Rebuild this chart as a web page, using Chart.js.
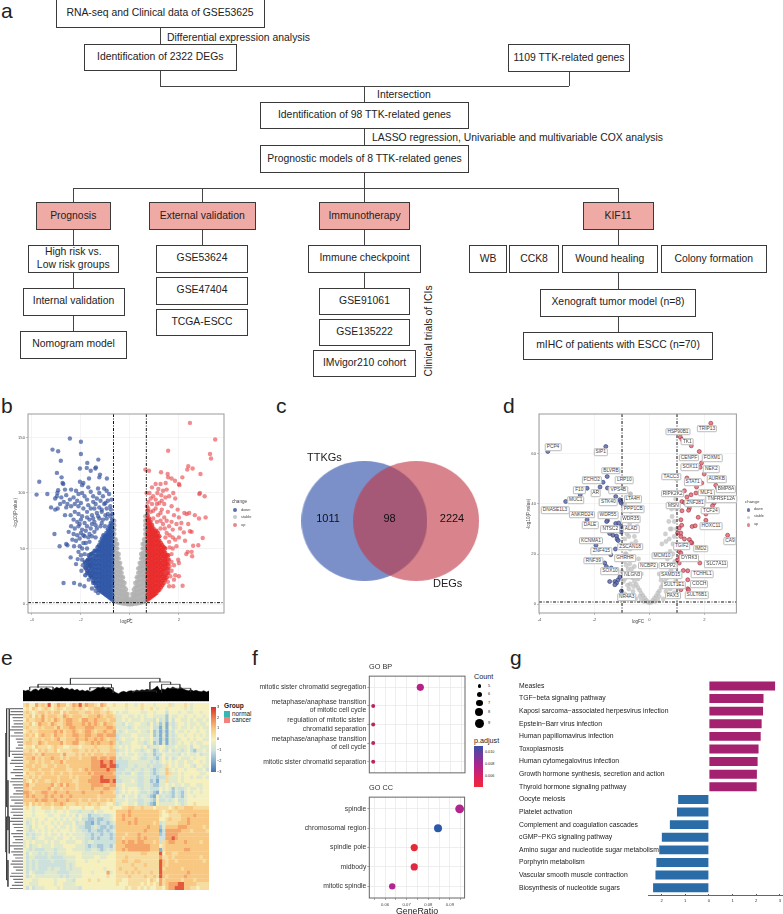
<!DOCTYPE html>
<html>
<head>
<meta charset="utf-8">
<script src="https://cdn.jsdelivr.net/npm/chart.js@4"></script>
<style>
html, body { margin: 0; background: #fff; }
#page { position: relative; width: 783px; height: 914px; overflow: hidden; font-family: "Liberation Sans", Arial, sans-serif; color: #222; }
#page canvas { position: absolute; }
.t { position: absolute; white-space: nowrap; line-height: 1; }
.box { position: absolute; box-sizing: border-box; border: 1px solid #3a3a3a; display: flex; align-items: center; justify-content: center; text-align: center; font-size: 10.4px; line-height: 12.5px; background: #fff; }
.tag { position: absolute; transform: translate(-50%, -50%); background: #fff; border: 0.5px solid #bbb; border-radius: 1px; font-size: 4.8px; line-height: 5.6px; padding: 0 1px; white-space: nowrap; color: #444; }
.ln { position: absolute; background: #444; }
</style>
</head>
<body>
<div id="page"></div>
<script>
// panel b: volcano
const bThresholdX = [-0.67, 0.67];
const bThresholdY = 1.3;
const bDownSparse = [[-2.45,149],[-2,146],[-3.16,139],[-2.93,137.5],[-2,135],[-2.82,129],[-1.74,127],[-1.29,130],[-2.04,122],[-1.76,122.5],[-1.6,120],[-1.39,123],[-1.41,122],[-2.98,118],[-2.79,114],[-1.22,116.5],[-1.25,114],[-1.67,113],[-.94,113],[-3.7,110],[-2.75,109],[-2.72,108],[-2.04,110],[-1.9,109],[-1.95,107],[-3.81,98.5],[-3.37,99],[-2.93,102.5],[-2.96,100],[-2.65,103],[-2.4,103],[-2.2,102],[-2.1,99],[-1.95,100],[-1.7,105],[-1.6,101],[-1.3,104],[-1.25,100],[-1.05,104],[-.95,102],[-.85,99],[-2.98,97],[-3.05,95],[-2.8,96],[-2.6,98],[-2.45,94],[-2.3,96],[-2.15,93],[-1.85,97],[-1.75,94],[-1.5,97],[-1.35,95],[-1.1,97],[-.9,93],[-.75,94],[-3.22,87],[-3.05,85],[-2.95,86],[-2.85,90],[-2.7,92],[-2.55,90],[-2.6,87],[-2.4,88],[-2.25,90],[-2.1,88],[-2,91],[-1.9,86],[-1.7,89],[-1.6,86],[-1.4,90],[-1.25,87],[-1.05,90],[-.95,86],[-.8,88],[-2.65,80],[-2.42,80],[-2.25,83],[-2.1,81],[-1.95,79],[-1.75,83],[-1.55,80],[-1.35,82],[-1.15,83],[-.9,81],[-2.3,76],[-2.15,74],[-2,76],[-1.85,73],[-1.65,76],[-1.45,74],[-1.25,77],[-1.1,76],[-.95,77],[-2.4,70],[-2.25,68],[-2.1,70],[-1.95,67],[-1.75,70],[-1.6,68],[-1.4,71],[-1.2,70],[-2.5,65],[-2.3,63],[-2.15,62],[-2,64],[-1.85,61],[-1.65,63],[-1.45,65],[-3.08,63],[-2.87,52],[-2.6,54],[-2.55,53],[-2.42,42],[-2.28,52],[-2.1,47],[-2.13,40.5],[-1.95,40],[-1.9,55],[-1.75,50],[-1.65,56],[-1.6,45],[-1.8,32],[-2.71,19],[-2.28,19],[-2.04,17.5],[-1.86,16],[-1.75,28],[-1.6,25],[-1.5,19],[-1.65,35],[-1.55,14],
[-1.5,92],[-1.2,93],[-1,91],[-.78,85],[-1.45,86],[-1.15,85],[-1.75,78],[-1.5,77],[-1.3,79],[-1,80],[-.8,79],[-2.05,72],[-1.8,66],[-1.55,72],[-1.35,68],[-1.15,73],[-1.02,70],[-2.2,57],[-2.05,59],[-1.9,62],[-1.7,60],[-1.55,61],[-1.4,60],[-2.35,58],[-2.05,52],[-1.95,50],[-1.8,55],[-2,44],[-1.85,45],[-1.92,35],[-2.2,36],[-1.98,30],[-1.85,38],[-1.72,40],[-1.68,22],[-1.4,12],[-1.3,10]];
const bDownColX = [-0.72,-0.78,-0.84,-0.9,-0.96,-1.02,-1.08,-1.14,-1.2,-1.26,-1.32,-1.38,-1.44,-1.5,-1.56,-1.62,-1.68,-1.74,-1.82];
const bDownColY = [
  [4,8,12,16,20,24,28,32,36,40,44,48,52,56,60,64,68,72,76,81],
  [5,9,13,17,21,25,29,33,37,41,45,49,53,57,61,65,69,73],
  [6,10,14,18,22,26,30,34,38,42,46,50,54,58,62,66,70],
  [7,11,15,19,23,27,31,35,39,43,47,51,55,59,63,67],
  [8,12,16,20,24,28,32,36,40,44,48,52,56,60,64],
  [9,13,17,21,25,29,33,37,41,45,49,53,57,61],
  [10,14,18,22,26,30,34,38,42,46,50,54,58,62],
  [11,15,19,23,27,31,35,39,43,47,51,55,59],
  [12,16,20,24,28,32,36,40,44,48,52,56],
  [13,17,21,25,29,33,37,41,45,49,53],
  [15,19,23,27,31,35,39,43,47,51],
  [16,20,24,28,32,36,40,44,48],
  [19,23,27,31,35,39,43,48],
  [21,25,29,33,37,41,46],
  [24,28,32,36,40,45],
  [26,30,34,38,42],
  [28,32,36,40,44],
  [30,35,39],
  [26,33,37]
];
const bUpSparse = [[2.45,163],[3.48,148],[1.56,138],[3.27,135],[3.31,131],[2.38,124],[2.56,122],[2.34,121],[.78,120],[1.27,118.6],[.63,121],[2.88,117],[1.54,117],[1.56,114],[2.14,114],[1.7,113],[1.84,111],[2,108],[2.02,107],[.9,105],[1.16,103.6],[1.46,109],[1.25,108],[1.05,108],[2.86,100],[2.83,99],[3.05,97],[1.77,100],[1.5,103],[1.35,102],[1.12,100],[.8,100],[.68,100],[.95,97],[1.28,98],[1.6,97],[1.85,95],[1.45,96],[1.05,94],[.75,92],[.9,90],[1.2,91],[1.4,90],[1.7,88],[1.95,85],[2.22,82],[2.32,81],[2.42,82],[2.65,80],[2.82,77],[3.09,78],[.7,88],[1.05,86],[1.3,85],[1.55,83],[1.8,80],[2,78],[.85,83],[1.15,80],[1.4,78],[1.7,74],[1.9,72],[2.38,72],[2.05,68],[2.1,73],[.95,77],[1.25,75],[1.6,70],[1.75,67],[1.5,64],[2.45,65.5],[2.52,65],[2.2,64.5],[2,60],[2.25,57],[2.97,59.5],[2.79,53],[2.58,52.5],[2.52,47],[2.36,47],[2.54,43],[2.3,45],[1.85,58],[1.6,56],[1.75,50],[1.9,52],[1.7,45],[2,37],[1.97,40],[1.8,35],[1.7,30],[1.85,26],[2,25],[1.65,25],[1.55,30],[2.15,16.5],[1.77,16],[1.6,16],[1.8,22],[1.55,20],[1.45,28],
[.85,95],[1.3,93],[.75,86],[1.1,90],[.95,84],[1.25,82],[1.5,75],[1.35,72],[1.1,74],[1.42,68],[1.25,68],[1.62,62],[1.45,60],[1.75,60],[1.62,51],[1.7,38],[1.6,40],[1.62,34]];
const bUpColX = [0.72,0.78,0.84,0.9,0.96,1.02,1.08,1.14,1.2,1.26,1.32,1.38,1.44,1.5,1.56];
const bUpColY = [
  [4,8,12,16,20,24,28,32,36,40,44,48,52,56,60,64,68,72,76,80,84],
  [5,9,13,17,21,25,29,33,37,41,45,49,53,57,61,65,69,73,77],
  [6,10,14,18,22,26,30,34,38,42,46,50,54,58,62,66,70,74],
  [7,11,15,19,23,27,31,35,39,43,47,51,55,59,63,67,71],
  [8,12,16,20,24,28,32,36,40,44,48,52,56,60,64,68],
  [9,13,17,21,25,29,33,37,41,45,49,53,57,61,65],
  [10,14,18,22,26,30,34,38,42,46,50,54,58,62,66],
  [12,16,20,24,28,32,36,40,44,48,52,56,60,64],
  [13,17,21,25,29,33,37,41,45,49,53,57,61],
  [15,19,23,27,31,35,39,43,47,51,55],
  [17,21,25,29,33,37,41,45,49,53],
  [19,23,27,31,35,39,43,47,51],
  [22,26,30,34,38,42,46,50],
  [24,28,32,36,40,44],
  [28,32,36,40,44]
];
const bStableColX = [-0.64,-0.58,-0.52,-0.46,-0.4,-0.34,-0.28,-0.22,-0.16,-0.1,-0.05,0,0.05,0.1,0.16,0.22,0.28,0.34,0.4,0.46,0.52,0.58,0.63];
const bStableColY = [
  [3,7,11,15,19,23,27,31,35,39,43,47,51,55,59,63,67,71,75],
  [2.5,6,10,14,18,22,26,30,34,38,42,46,50,54,58],
  [2,6,10,14,18,22,26,30,34,38,42,46,50,54],
  [1.5,5,9,13,17,21,25,29,33,37,41,45],
  [1,5,9,13,17,21,25,29,33,37],
  [1,4,8,12,16,20,24,28,32],
  [0.5,4,8,12,16,20,24],
  [0.5,3,7,11,15,19],
  [0.5,3,6,9,13],
  [0,3,6,9],
  [0,2,4],
  [0,1.5],
  [0,2,4],
  [0,3,6,9],
  [0.5,3,6,9,13],
  [0.5,3,7,11,15,19],
  [0.5,4,8,12,16,20,24],
  [1,4,8,12,16,20,24,28,32],
  [1,5,9,13,17,21,25,29,33,37],
  [1.5,5,9,13,17,21,25,29,33,37,41,45],
  [2,6,10,14,18,22,26,30,34,38,42,46,50,54],
  [2.5,6,10,14,18,22,26,30,34,38,42,46,50,54,58],
  [3,7,11,15,19,23,27,31,35,39,43,47,51,55,59,63,67,71,75,79]
];

// panel c: venn
const vennSets = ["TTKGs", "DEGs"];
const vennCounts = [1011, 98, 2224];
const vennCentres = [363, 417.5];

// panel d: volcano with labelled genes
const dThresholdX = [-1, 1];
const dThresholdY = 0.8;
const dDown = [[-3.7,61],[-1.59,63],[-1.54,51],[-1.69,48.7],[-1.8,46.8],[-2.27,46.3],[-1.53,46.4],[-2.52,43.7],[-3.05,41],[-1.23,43],[-1.08,41.7],[-1.05,41],[-1.03,40.4],[-2.27,33.7],[-1.53,33.4],[-1.56,33],[-1.23,32.2],[-1.12,32.4],[-1.03,31],[-1.03,28.8],[-1.33,27.5],[-1.2,27.2],[-1.18,26],[-1.14,25.4],[-1.45,28.2],[-1.95,23.5],[-1.24,22],[-1.41,19.7],[-1.63,16.4],[-1.57,15],[-1.39,14.4],[-1.2,13.8],[-1.45,9],[-1.26,9],[-1.14,9.7],[-1.08,10.8],[-1.2,8.4],[-1.26,7.7],[-1.02,5.2]];
const dUp = [[2.23,72.3],[1.12,66.8],[1.18,65.8],[1.52,63.3],[1.81,61],[1.89,56.4],[1.84,54.7],[1.99,52],[1.36,50.4],[1.9,48.4],[1.71,46.8],[2.41,47.5],[2.47,46.4],[1.27,45.3],[1.51,43.7],[1.69,44.4],[1.36,42.8],[1.18,41],[1.27,40.6],[2.35,40.4],[2.29,39.3],[1.45,38.4],[1.42,37.5],[1.18,37.3],[1.77,34.7],[2.05,36],[2.05,33.5],[1.55,31],[1.66,31.3],[1.14,33.7],[1.17,31.5],[1.08,30.4],[1.02,28.4],[1.14,27],[1.27,26],[1.45,25.8],[1.54,24.4],[1.51,24.7],[1.14,28.4],[2.84,27.5],[1.08,21],[1.14,20.4],[1.12,19],[1.02,17.7],[1.83,16.4],[1.08,16.4],[1.23,13.4],[1.39,13.3],[1.39,9.7],[1.14,5.7],[1.39,6.1],[1.42,5.7]];
const dStable = [[0,0.5],[-.06,.8],[.06,.7],[-.12,1.5],[.12,1.4],[-.18,2.4],[.18,2.3],[-.24,3.3],[.24,3.2],[-.3,4.2],[.3,4.4],[-.36,5.5],[.36,5.2],[-.42,6.5],[.42,6.6],[-.48,7.8],[.48,7.6],[-.55,9],[.55,8.8],[-.62,10.5],[.62,10.3],[-.7,12],[.7,11.5],[-.78,14],[.78,13.5],[-.85,15.5],[.85,15],[-.9,17],[.92,17],[-.3,1.5],[.3,1.5],[-.5,2],[.5,2],[-.7,3],[.7,3],[-.9,4],[.9,4.5],[-.6,5],[.6,5],[-.8,7.5],[.8,7.5],[-.95,9],[.95,9],[-1,13],[-.95,12],[-.9,10],[-.85,11],[-.7,8],[-.72,16],[-.8,18],[-.88,20],[-.62,18],[-.55,15],[-.65,24],[-.5,25],[-.7,22],[-.9,26],[-.82,28],[-.6,30],[-.72,32],[-.55,27],[-.45,31],[-.9,40],[-.7,44],[-.85,34],[-.68,37],[-.69,44],[.95,22],[.85,24],[.9,27],[.8,30],[.72,26],[.6,20],[.65,18],[.75,21],[.82,35],[.9,33],[.98,38],[.95,42],[.88,44],[.8,38],[.7,33],[.6,25],[.98,30],[.98,50],[.7,40],[.45,24],[.58,28],[-.4,18],[-.3,12],[.35,12],[.62,15],[-.65,14],[-.5,12],[-.42,10],[.42,9.5],[.5,11],[-.75,6],[.75,6],[-.58,7],[.58,7],[-.35,3],[.35,3],[-.2,1],[.2,1],[-.85,20],[.85,20],[-.75,27],[.75,30]];

// panel e: heatmap, one digit per cell, index into heatLevels
const heatLevels = [-2.5,-2,-1.5,-1,-0.5,0,0.5,1,1.5,2.5];
const heatRows = [
"675586769568775687968776587556 555655456555455556455565455555",
"565765676567656676765667765655 555455556556545545555545455555",
"676567767677576777667767766765 454455554455455535554554455455",
"667576867776687677766777876776 445544545455444425445545545545",
"576677867687678877688778777677 445454445444353425355445454454",
"667568776876678877787878768776 443544554435342414345545445445",
"676667677768677887778887777887 444434544445331415345445454544",
"567667777787867787678876778778 434544454435231314354454554554",
"676757877687767788778877887888 344445544445231414345545545454",
"667667677678667778778778787677 345444545445331314344554545544",
"677668767777867788667787877787 434445544345231414345455454455",
"566576665676655666566667666676 454545554534445534454445355444",
"667657676675666677667676766677 344545443454235435344345324454",
"777676877777686667676767776777 454544544344233544443545445344",
"677867677877676777677788788788 434445543344324535345444545554",
"667767677677867777777788898898 333344444443434545454454455454",
"677677667767776777777788899899 233344344434333465454455435544",
"667776777677776677678788888988 333443443443234474545545554453",
"576677677677677677777878888887 334335433443234476445455555445",
"667676777776777676777788898888 344444433443323364445455454454",
"765767766776777766777888899989 334445433442314464445455555555",
"786677777867868776777788887788 445444433443224454544544554455",
"776777778677677776777787778877 345455543443335454243345445455",
"887677887787778777787777787776 345454543343215343243245455455",
"787877787877877877777777677777 453544534432153433243245545555",
"777787887787778777677677677676 444544433443253343453345555555",
"675767677677876667666766766556 345544533432154444454345565555",
"565455666566656555565556655565 556677667666566665676677766666",
"555455544545545444344435445555 777787777777776567667777777777",
"555455554455445453544233343345 778787777777776556666777787777",
"544545545545454544533223223345 778777877777775567666778777777",
"534545455454544453442213233234 777787877777673466667778777777",
"543545545545445454332234322323 777777777787772477778887777767",
"543454545454555454433233223234 777777777877771388888777677776",
"534344545445454544443323323323 777677787777772388887777777777",
"544345544454455454443323233323 776777787877773388987777777777",
"454544454544554445543443333333 778788788777673678877787777677",
"453445444544455554443233223324 777888888887775677777777777777",
"543433344434445544443344323434 778788888887771677777788777777",
"535443434434445555544444444455 666666667766669577667777777777",
"534433334333344445544445544555 666766666666668667677777777677",
"534343333433334445554555455555 667766776666669767767777777767",
"534343333333334345555555555555 666667666766669767777777777777",
"534343334344334344455555554555 676666766666669677777677777777",
"535433344443333444455545555845 666767676667669777777778777777",
"534544444444343444455555555655 666676666766769767777787777777",
"555445555545554435555655655555 665566666657658677777677767777",
"554445555545544445555555555555 655566665656568678889977776666",
"535344455554544444355555555555 555656656565566578899977665666"
];
const heatGroups = ["cancer", "normal"];
// column dendrogram: outline of the dense lower part, then the upper branches
const topMass = [32,30,33,28,34,36,31,38,35,40,37,33,36,41,38,42,36,39,34,37,32,35,30,33,29,32,28,31,35,41,38,43,36,40,37,30,25,22,27,29,26,30,31,28,33,30,34,32,35,33,34,38,45,32,36,34,40,37,42,38,35,41,36,33,31,34,30,32,29,28,31,27,30];
const topTreeX = [212,480,null,212,212,null,480,480,null,115,335,null,115,115,null,335,335,null,450,512,null,450,450,null,512,512,null,485,540,null,485,485,null,540,540,null,510,572,null,572,572,null,90,160,null,90,90,null,160,160,null,270,340,null,270,270,null,340,340,null,400,470,null,400,400,null,470,470];
const topTreeY = [68,68,null,68,50,null,68,57,null,50,50,null,50,40,null,50,40,null,57,57,null,57,30,null,57,50,null,50,50,null,50,25,null,50,38,null,38,38,null,38,28,null,42,42,null,42,32,null,42,32,null,40,40,null,40,32,null,40,24,null,30,30,null,30,25,null,30,25];
// row dendrogram: leaf lengths top to bottom, then the upper branches
const leftLeafLen = [40,38,40,32,30,28,35,40,27,38,22,18,15,22,40,34,28,36,40,25,30,38,24,36,40,32,28,22,30,40,36,26,40,34,38,30,36,40,32,28,20,36,30,24,32,40,28,36,30,24,34,38,30,22,36,40,30,26,34,40];
const leftTreeX = [15,15,null,15,20,null,15,20,null,20,20,null,20,28,null,20,24,null,20,20,null,20,28,null,20,24,null,28,28,null,24,24,null,28,28,null,24,24];
const leftTreeY = [280,635,null,280,280,null,635,635,null,205,500,null,205,205,null,500,500,null,530,720,null,530,530,null,720,720,null,205,350,null,420,570,null,530,640,null,660,740];

// panel f: GO dot plots
const bpTerms = ["mitotic sister chromatid segregation","metaphase/anaphase transition|of mitotic cell cycle","regulation of mitotic sister |chromatid separation","metaphase/anaphase transition|of cell cycle","mitotic sister chromatid separation"];
const bpRatio = [0.0762,0.0545,0.0545,0.0545,0.0545];
const bpCount = [7,5,5,5,5];
const ccTerms = ["spindle","chromosomal region","spindle pole","midbody","mitotic spindle"];
const ccRatio = [0.0945,0.0845,0.0735,0.0735,0.0633];
const ccCount = [9,8,7,7,6];
const countRadius = {5: 2, 6: 3.2, 7: 3.6, 8: 4, 9: 4.4};
const bpColours = ["#B5228A","#B82664","#B82664","#B82664","#B82664"];
const ccColours = ["#B2258F","#2B5BA8","#E32B3A","#DF2A42","#B3268F"];
const ratioTicks = [0.055,0.06,0.065,0.07,0.075,0.08,0.085,0.09,0.095];

// panel g: pathway bars
const pathways = ["Measles","TGF\u2212beta signaling pathway","Kaposi sarcoma\u2212associated herpesvirus infection","Epstein\u2212Barr virus infection","Human papillomavirus infection","Toxoplasmosis","Human cytomegalovirus infection","Growth hormone synthesis, secretion and action","Thyroid hormone signaling pathway","Oocyte meiosis","Platelet activation","Complement and coagulation cascades","cGMP\u2212PKG signaling pathway","Amino sugar and nucleotide sugar metabolism","Porphyrin metabolism","Vascular smooth muscle contraction","Biosynthesis of nucleotide sugars"];
const pathwayScore = [2.8,2.31,2.29,2.23,2.19,2.1,2.06,2.03,2.02,-1.3,-1.35,-1.65,-1.99,-2.1,-2.22,-2.26,-2.36];

// flowchart layout: text, x0, x1, y0, y1, highlighted
const flowBoxes = [
["RNA-seq and Clinical data of GSE53625",55.5,264.5,-1,28],
["Identification of 2322 DEGs",83.5,237,43.5,71],
["1109 TTK-related genes",508,630,44,71.5],
["Identification of 98 TTK-related genes",260,469,101.5,129],
["Prognostic models of 8 TTK-related genes",260,469,145,173],
["Prognosis",35.5,111,202,230,1],
["External validation",148.5,256,202,230,1],
["Immunotherapy",319,410,202,230,1],
["KIF11",582.5,653.5,202,229.5,1],
["High risk vs.<br>Low risk groups",27.5,119,244.5,272.5],
["GSE53624",156,248,244.5,272.5],
["Immune checkpoint",308,421,244.5,272.5],
["WB",469,507,245,272.5],
["CCK8",509,559,245,272.5],
["Wound healing",561.5,658,245,272.5],
["Colony formation",660.5,767,245,272.5],
["Internal validation",22.5,124.5,287.5,315.5],
["GSE47404",156,248,276.5,304.5],
["TCGA-ESCC",156,248,308.5,336],
["GSE91061",319,410,287.5,315],
["GSE135222",319,410,318.5,346],
["IMvigor210 cohort",313,416,349.5,377],
["Xenograft tumor model (n=8)",540,696,288.5,316.5],
["mIHC of patients with ESCC (n=70)",523,713,331.5,359.5],
["Nomogram model",20,127,330.5,358.5]
];
// connectors: vertical x,y0,y1 / horizontal y,x0,x1
const flowV = [[160,28,43.5],[160,71,86],[569,71.5,86],[364.5,86,101.5],[364.5,129,145],[364.5,173,202],[73.5,188,202],[202.5,188,202],[618,188,202],[73.5,230,244.5],[202.5,230,244.5],[364.5,230,244.5],[618,229.5,245],[73.5,272.5,287.5],[73.5,315.5,330.5],[364.5,272.5,287.5],[618,272.5,288.5],[618,316.5,331.5]];
const flowH = [[86,160,569],[188,73.5,618.5]];

// gene labels of panel d, placed by hand around their points (page pixels)
const dTags = [["TRIP13",707,428.7],["HSP90B1",678,431.7],["TK1",687.3,441.7],["PCP4",553,447],["SIP1",600.7,452.3],["CENPF",689,457.7],["FOXM1",712,458.3],["SOX11",690,467],["NEK2",711.3,469.3],["BLVRB",611,470.7],["TACC3",671.3,476.7],["AURKB",716.7,479.3],["FCHO2",591.7,480],["LRP10",624.3,480.3],["STAT1",692.7,482.3],["F10",579.3,490.3],["AR",595.7,493],["VPS4B",618.3,490.3],["BMP8A",726,489],["MLF1",706.3,492.7],["RIPK2K2",672.7,493.7],["TNFRSF12A",721.3,499],["MUC1",575.7,500.3],["LTA4H",632.7,499.3],["STK40",608.3,502.3],["ZNF281",695,503],["MSN",673.3,505.7],["PPP1CB",633.3,509.3],["DNASE1L3",555,510.3],["TCF24",710.3,510.7],["ANKRD24",582,514.7],["WDR55",608,515.3],["WDR35",630.7,519],["DALE",590,525.3],["HOXC11",711,526],["NTSC2",610.3,529],["ALAD",631,529],["KCNMA1",591,540.7],["CA9",730,541],["TGIF2",681.7,546],["ZSCAN18",630,546.7],["IMD2",700.7,548.7],["ZNF415",601.3,551],["MCM10",662,555.7],["GHRHR",625,558.3],["DYRK3",689.3,558.3],["RNF39",593.3,560.7],["SLC7A11",716.3,564.3],["NCBP2",648,565.7],["PLPP2",668.3,565.7],["SOX10",610,571],["NLGN3",632.3,575.3],["SAMD15",670.7,575.3],["TCHHL1",702.3,574.3],["SULT1E1",674,585],["COCH",699.3,584],["NR4A3",626.7,597],["PAX3",672.7,595.7],["SULT6B1",696.7,595]];

const page = document.getElementById("page");

function addText(str, x, y, size, opts) {
    opts = opts || {};
    const el = document.createElement("div");
    el.className = "t";
    el.innerHTML = str;
    el.style.left = x + "px";
    el.style.top = y + "px";
    el.style.fontSize = size + "px";
    if (opts.color) el.style.color = opts.color;
    if (opts.weight) el.style.fontWeight = opts.weight;
    const tx = opts.align === "center" ? "-50%" : opts.align === "right" ? "-100%" : "0";
    el.style.transform = `translate(${tx},-50%)` + (opts.rotate ? ` rotate(${opts.rotate}deg)` : "");
    page.appendChild(el);
    return el;
}

function addSwatch(x, y, w, h, bg, radius) {
    const el = document.createElement("div");
    el.style.cssText = `position:absolute;left:${x}px;top:${y}px;width:${w}px;height:${h}px;background:${bg};` + (radius ? "border-radius:50%;" : "");
    page.appendChild(el);
}

function addCanvas(left, top, width, height) {
    const c = document.createElement("canvas");
    c.width = width;
    c.height = height;
    c.style.left = left + "px";
    c.style.top = top + "px";
    c.style.width = width + "px";
    c.style.height = height + "px";
    page.appendChild(c);
    return c;
}

const toPoints = arr => arr.map(p => ({ x: p[0], y: p[1] }));
const colPoints = (xs, ys) => xs.flatMap((x, i) => ys[i].map(y => ({ x, y })));
const fixSize = size => scale => { if (scale.isHorizontal()) scale.height = size; else scale.width = size; };
const setTicks = values => scale => { scale.ticks = values.map(value => ({ value })); };

const panelBorder = color => ({
    id: "panelBorder",
    afterDraw(chart) {
        const a = chart.chartArea, ctx = chart.ctx;
        ctx.save();
        ctx.strokeStyle = color;
        ctx.lineWidth = 1;
        ctx.strokeRect(a.left, a.top, a.right - a.left, a.bottom - a.top);
        ctx.restore();
    }
});

const plain = { animation: false, responsive: false, events: [], plugins: { legend: { display: false }, tooltip: { enabled: false } } };

function guide(points) {
    return { data: points, showLine: true, pointRadius: 0, borderColor: "#111", borderWidth: 1, borderDash: [3, 1.5, 1, 1.5] };
}

function volcano(canvas, padding, xRange, yRange, xTicks, yTicks, yAxisWidth, datasets) {
    return new Chart(canvas, {
        type: "scatter",
        data: { datasets },
        options: {
            ...plain,
            layout: { padding },
            scales: {
                x: { min: xRange[0], max: xRange[1], afterFit: fixSize(14), afterBuildTicks: setTicks(xTicks),
                     grid: { color: "#ececec", lineWidth: 0.6, tickLength: 2, tickColor: "#999" }, border: { display: false },
                     ticks: { font: { size: 4.2 }, color: "#555", padding: 2, maxRotation: 0 } },
                y: { min: yRange[0], max: yRange[1], afterFit: fixSize(yAxisWidth), afterBuildTicks: setTicks(yTicks),
                     grid: { color: "#ececec", lineWidth: 0.6, tickLength: 2, tickColor: "#999" }, border: { display: false },
                     ticks: { font: { size: 4.2 }, color: "#555", padding: 1 } }
            }
        },
        plugins: [panelBorder("#9a9a9a")]
    });
}

// ---- a
flowBoxes.forEach(b => {
    const el = document.createElement("div");
    el.className = "box";
    el.innerHTML = b[0];
    el.style.left = b[1] + "px";
    el.style.width = (b[2] - b[1]) + "px";
    el.style.top = b[3] + "px";
    el.style.height = (b[4] - b[3]) + "px";
    if (b[5]) el.style.background = "#F0AAA6";
    page.appendChild(el);
});
flowV.forEach(l => {
    const el = document.createElement("div");
    el.className = "ln";
    el.style.cssText = `left:${l[0] - 0.5}px;top:${l[1]}px;width:1px;height:${l[2] - l[1]}px`;
    page.appendChild(el);
});
flowH.forEach(l => {
    const el = document.createElement("div");
    el.className = "ln";
    el.style.cssText = `left:${l[1]}px;top:${l[0] - 0.5}px;width:${l[2] - l[1]}px;height:1px`;
    page.appendChild(el);
});
addText("Differential expression analysis", 167, 37.5, 10.4);
addText("Intersection", 377, 95, 10.4);
addText("LASSO regression, Univariable and multivariable COX analysis", 372, 137.5, 10.4);
addText("Clinical trials of ICIs", 429, 331, 10.4, { align: "center", rotate: -90 });

[["a",1,10],["b",1,405],["c",276,405],["d",503,405],["e",1,657],["f",252,657],["g",510,657]].forEach(l => addText(l[0], l[1], l[2], 21));

// ---- b
volcano(addCanvas(0, 405, 228, 222), { top: 9, right: 4 }, [-4.16, 3.84], [-8, 171], [-4,-2,0,2], [0,50,100,150], 28, [
    guide([{ x: bThresholdX[0], y: -8 }, { x: bThresholdX[0], y: 171 }]),
    guide([{ x: bThresholdX[1], y: -8 }, { x: bThresholdX[1], y: 171 }]),
    guide([{ x: -4.16, y: bThresholdY }, { x: 3.84, y: bThresholdY }]),
    { data: toPoints(bUpSparse), backgroundColor: "rgba(232,70,75,.62)", pointRadius: 2.2, borderWidth: 0 },
    { data: colPoints(bUpColX, bUpColY), backgroundColor: "rgba(232,40,40,.8)", pointRadius: 2.3, borderWidth: 0 },
    { data: toPoints(bDownSparse), backgroundColor: "rgba(50,80,155,.68)", pointRadius: 2.2, borderWidth: 0 },
    { data: colPoints(bDownColX, bDownColY), backgroundColor: "rgba(45,85,165,.8)", pointRadius: 2.3, borderWidth: 0 },
    { data: colPoints(bStableColX, bStableColY), backgroundColor: "rgba(178,178,178,.85)", pointRadius: 2.3, borderWidth: 0 }
]);
addText("logFC", 126.5, 622, 4.6, { align: "center", color: "#444" });
addText("-log10(Pvalue)", 15.5, 513, 4.6, { align: "center", rotate: -90, color: "#444" });
addText("change", 232, 502, 4.6, { color: "#444" });
[["down","#5B6FA8",510],["stable","#C9C9C9",517.3],["up","#E8888C",525]].forEach(l => {
    addSwatch(233, l[2] - 2, 4, 4, l[1], true);
    addText(l[0], 241, l[2], 3.9, { color: "#444" });
});

// ---- c
function ellipseStyle(rx, ry, fill) {
    const c = document.createElement("canvas");
    c.width = rx * 2;
    c.height = ry * 2;
    const g = c.getContext("2d");
    g.fillStyle = fill;
    g.beginPath();
    g.ellipse(rx, ry, rx, ry, 0, 0, Math.PI * 2);
    g.fill();
    return c;
}
new Chart(addCanvas(290, 450, 200, 140), {
    type: "scatter",
    data: { labels: vennSets, datasets: [
        { data: [{ x: vennCentres[1], y: 0 }], pointStyle: ellipseStyle(63, 60, "rgba(194,56,70,.62)") },
        { data: [{ x: vennCentres[0], y: 0 }], pointStyle: ellipseStyle(63, 60, "rgba(72,100,180,.72)") }
    ] },
    options: { ...plain, layout: { padding: 0 }, scales: {
        x: { display: false, min: 290, max: 490 },
        y: { display: false, min: -69, max: 71 }
    } }
});
addText(vennSets[0], 307, 457, 11);
addText(vennSets[1], 433, 583, 11);
addText(vennCounts[0], 328, 518, 11, { align: "center", color: "#111" });
addText(vennCounts[1], 389.5, 518, 11, { align: "center", color: "#111" });
addText(vennCounts[2], 452, 518, 11, { align: "center", color: "#111" });

// ---- d
volcano(addCanvas(508, 405, 233, 222), { top: 9, right: 4 }, [-4.02, 3.16], [-3.6, 76], [-4,-2,0,2], [0,20,40,60], 31, [
    guide([{ x: dThresholdX[0], y: -3.6 }, { x: dThresholdX[0], y: 76 }]),
    guide([{ x: dThresholdX[1], y: -3.6 }, { x: dThresholdX[1], y: 76 }]),
    guide([{ x: -4.02, y: dThresholdY }, { x: 3.16, y: dThresholdY }]),
    { data: toPoints(dUp), backgroundColor: "rgba(225,110,120,.85)", borderColor: "#9C2A3A", borderWidth: 0.6, pointRadius: 2 },
    { data: toPoints(dDown), backgroundColor: "rgba(105,115,170,.9)", borderColor: "#2A3A78", borderWidth: 0.6, pointRadius: 2 },
    { data: toPoints(dStable), backgroundColor: "rgba(190,190,190,.72)", borderWidth: 0, pointRadius: 2.4 }
]);
dTags.forEach(t => {
    const el = document.createElement("div");
    el.className = "tag";
    el.textContent = t[0];
    el.style.left = t[1] + "px";
    el.style.top = t[2] + "px";
    page.appendChild(el);
});
addText("logFC", 638, 622, 4.6, { align: "center", color: "#444" });
addText("-log10(P.value)", 529, 514, 4.6, { align: "center", rotate: -90, color: "#444" });
addText("change", 745, 502, 4.4, { color: "#444" });
[["down","#6973AA",510],["stable","#CFCFCF",517.3],["up","#E08890",525]].forEach(l => {
    addSwatch(746.5, l[2] - 1.8, 3.6, 3.6, l[1], true);
    addText(l[0], 754, l[2], 3.7, { color: "#444" });
});

// ---- e
const heatStops = [[-3,[70,115,175]],[-2,[130,175,210]],[-1,[205,225,220]],[0,[245,240,190]],[1,[248,200,130]],[2,[240,130,80]],[3,[215,48,39]]];
function heatColour(z) {
    for (let i = 0; i < heatStops.length - 1; i++) {
        const a = heatStops[i], b = heatStops[i + 1];
        if (z <= b[0]) {
            const f = (z - a[0]) / (b[0] - a[0]);
            return "rgb(" + a[1].map((v, k) => Math.round(v + (b[1][k] - v) * f)).join(",") + ")";
        }
    }
}
const heatMatrix = heatRows.map(r => r.replace(" ", "").split("").map(d => heatLevels[+d]));
const heatCols = heatMatrix[0].map((_, i) => i);
const heatDatasets = heatMatrix.slice().reverse().map(row => ({
    data: heatCols.map(() => 1),
    backgroundColor: row.map(heatColour),
    borderColor: row.map(heatColour),
    borderWidth: 0.3
}));
heatDatasets.push({ data: heatCols.map(() => 0.34), backgroundColor: "#fff" });
heatDatasets.push({ data: heatCols.map(() => 1.23), backgroundColor: heatCols.map(i => i < 30 ? "#F0837C" : "#35B8B4") });
new Chart(addCanvas(23, 701, 186, 189), {
    type: "bar",
    data: { labels: heatCols, datasets: heatDatasets },
    options: { ...plain, datasets: { bar: { barPercentage: 1, categoryPercentage: 1 } }, scales: {
        x: { display: false, stacked: true },
        y: { display: false, stacked: true, min: 0, max: 49.57 }
    } }
});

const treeLine = (xs, ys, color, width) => ({
    data: xs.map((x, i) => ({ x: x === null ? NaN : x, y: ys[i] === null ? NaN : ys[i] })),
    showLine: true, pointRadius: 0, borderColor: color, borderWidth: width, spanGaps: false
});
new Chart(addCanvas(23, 677, 186, 24), {
    type: "scatter",
    data: { datasets: [
        treeLine(topTreeX, topTreeY, "#333", 0.7),
        { data: topMass.map((h, i) => ({ x: 70 + i * 557 / (topMass.length - 1), y: h })), showLine: true, pointRadius: 0, borderColor: "#000", borderWidth: 0.5, fill: "origin", backgroundColor: "#000" }
    ] },
    options: { ...plain, scales: { x: { display: false, min: 70, max: 627 }, y: { display: false, min: 0, max: 72 } } }
});

const leafX = [], leafY = [];
leftLeafLen.forEach((len, i) => {
    const y = 200 + (i + 0.5) * 550 / leftLeafLen.length;
    leafX.push(70, 70 - len, null);
    leafY.push(y, y, null);
});
new Chart(addCanvas(5, 707, 18, 183), {
    type: "scatter",
    data: { datasets: [
        treeLine(leftTreeX, leftTreeY, "#333", 0.7),
        treeLine(leafX, leafY, "#777", 1.2)
    ] },
    options: { ...plain, scales: { x: { display: false, min: 15, max: 70 }, y: { display: false, reverse: true, min: 200, max: 750 } } }
});

addText("Group", 224, 705.5, 6.6, { weight: "bold" });
addSwatch(224, 711, 6, 6, "#35B8B4");
addSwatch(224, 717, 6, 6, "#F0837C");
addText("normal", 232, 714, 6.4);
addText("cancer", 232, 720.2, 6.4);
addSwatch(211, 706.7, 4.5, 65, "linear-gradient(#D73027,#F08250,#F8C882,#F5F0BE,#CDE1DC,#82AFD2,#4673AF)");
["3","2","1","0","\u22121","\u22122","\u22123"].forEach((s, i) => addText(s, 217, 706.7 + i * 10.83, 3.9));

// ---- f
function dotPlot(top, terms, ratios, counts, colours, bottomAxis) {
    const labelSplit = v => { const t = terms[v]; return t ? t.split("|") : ""; };
    const h = bottomAxis ? 119 : 107;
    return new Chart(addCanvas(240, top, 229, h), {
        type: "scatter",
        data: { datasets: [{
            data: ratios.map((x, i) => ({ x, y: i })),
            backgroundColor: colours,
            pointRadius: counts.map(c => countRadius[c]),
            borderWidth: 0
        }] },
        options: {
            ...plain,
            layout: { padding: { top: 1, right: 2 } },
            scales: {
                x: { min: 0.0527, max: 0.0968, afterFit: fixSize(bottomAxis ? 13 : 1), afterBuildTicks: setTicks(ratioTicks),
                     grid: { color: "#e6e6e6", lineWidth: 0.7, tickLength: bottomAxis ? 2 : 0, tickColor: "#888" }, border: { display: false },
                     ticks: { display: bottomAxis, font: { size: 4.2 }, color: "#444", padding: 2, maxRotation: 0,
                              callback: v => Math.abs(v * 100 - Math.round(v * 100)) < 0.01 ? v.toFixed(2) : "" } },
                y: { reverse: true, min: -0.6, max: 4.6, afterFit: fixSize(129.3), afterBuildTicks: setTicks([0,1,2,3,4]),
                     grid: { color: "#e6e6e6", lineWidth: 0.7, tickLength: 2, tickColor: "#888" }, border: { display: false },
                     ticks: { font: { size: 6.8, lineHeight: 1.22 }, color: "#333", padding: 1, callback: labelSplit } }
            }
        },
        plugins: [panelBorder("#666")]
    });
}
dotPlot(671, bpTerms, bpRatio, bpCount, bpColours, false);
dotPlot(792, ccTerms, ccRatio, ccCount, ccColours, true);
addText("GO BP", 369, 666.7, 7.3, { color: "#333" });
addText("GO CC", 369, 787.7, 7.3, { color: "#333" });
addText("GeneRatio", 417, 910.5, 8.8, { align: "center", color: "#222" });
addText("Count", 474, 676.7, 7.2);
[["5",686,1.7],["6",694.3,2.8],["7",703,3.4],["8",712.3,4],["9",723,4.5]].forEach(l => {
    addSwatch(479.3 - l[2], l[1] - l[2], l[2] * 2, l[2] * 2, "#000", true);
    addText(l[0], 488, l[1], 3.9);
});
addText("p.adjust", 474, 740.7, 7.2);
addSwatch(474, 746, 8.7, 40.7, "linear-gradient(#3B4FA8,#A8258F 45%,#E0205C 78%,#EE2A3A)");
[["0.010",752.7],["0.008",765],["0.006",777]].forEach(l => addText(l[0], 485, l[1], 3.7));

// ---- g
new Chart(addCanvas(519, 672, 264, 236), {
    type: "bar",
    data: { labels: pathways, datasets: [{
        data: pathwayScore,
        backgroundColor: pathwayScore.map(v => v > 0 ? "#A3216F" : "#2A6CA8"),
        barPercentage: 0.71,
        categoryPercentage: 1
    }] },
    options: {
        ...plain,
        indexAxis: "y",
        layout: { padding: { top: 7.6 } },
        scales: {
            x: { min: -8.03, max: 3.07, afterFit: fixSize(14), afterBuildTicks: setTicks([-2,-1,0,1,2,3]),
                 grid: { drawOnChartArea: false, tickLength: 2, tickColor: "#555" }, border: { display: false },
                 ticks: { font: { size: 4.2 }, color: "#333", padding: 2, maxRotation: 0, callback: v => Math.abs(v) } },
            y: { afterFit: fixSize(0), grid: { display: false }, border: { display: false },
                 ticks: { mirror: true, padding: 0, font: { size: 6.8 }, color: "#222", autoSkip: false } }
        }
    }
});
const gAxis = document.createElement("div");
gAxis.style.cssText = "position:absolute;left:648px;top:894.5px;width:135px;height:1px;background:#666";
page.appendChild(gAxis);
</script>
</body>
</html>
